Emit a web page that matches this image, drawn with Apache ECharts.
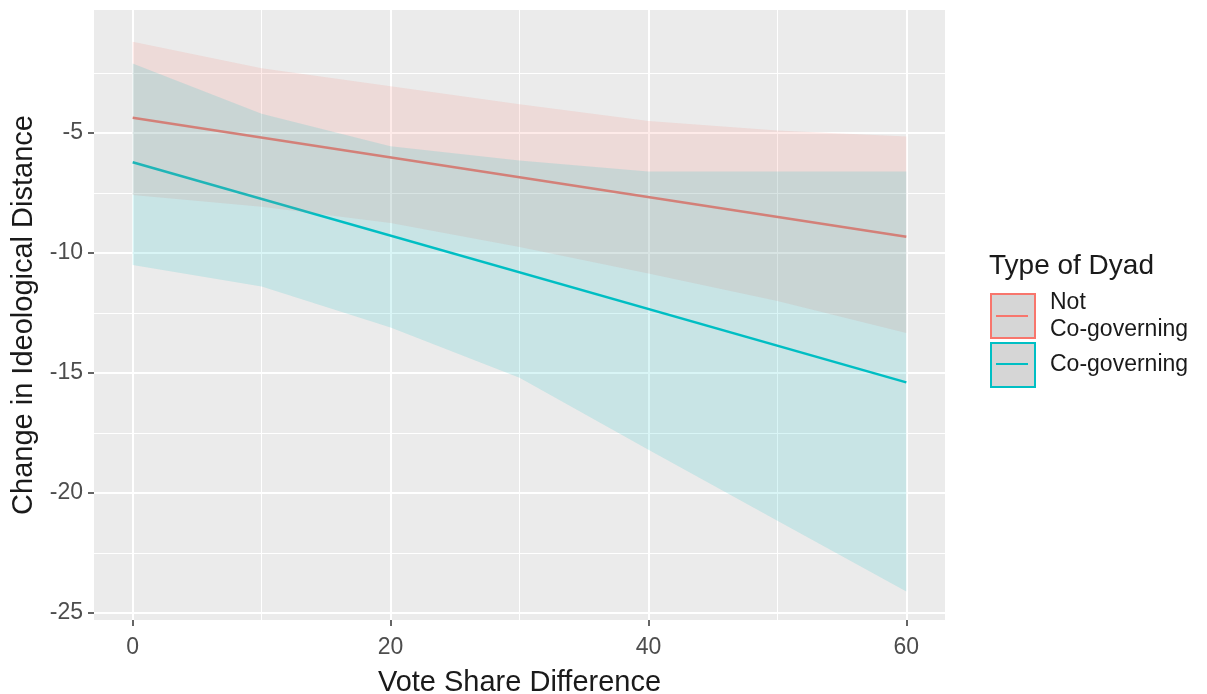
<!DOCTYPE html>
<html>
<head>
<meta charset="utf-8">
<script src="https://cdn.jsdelivr.net/npm/echarts@6/dist/echarts.min.js"></script>
<style>
  html, body { margin: 0; padding: 0; background: #fff; }
  #chart { width: 1207px; height: 694px; }
</style>
</head>
<body>
<div id="chart"></div>
<script>
// fitted lines (read at the ends of the range)
var lineX = [0, 60];
var notFit = [-4.36, -9.32];
var coFit = [-6.22, -15.39];

// confidence ribbons
var bandX = [0, 10, 20, 30, 40, 50, 60];
var notHigh = [-1.2, -2.3, -3.05, -3.8, -4.5, -4.9, -5.15];
var notLow = [-7.58, -8.07, -8.75, -9.75, -10.85, -12.0, -13.33];
var coHigh = [-2.1, -4.2, -5.55, -6.15, -6.6, -6.6, -6.6];
var coLow = [-10.5, -11.4, -13.1, -15.2, -18.2, -21.15, -24.1];

// axis ticks
var xTicks = [0, 20, 40, 60];
var xMinor = [10, 30, 50];
var yTicks = [-25, -20, -15, -10, -5];
var yMinor = [-22.5, -17.5, -12.5, -7.5, -2.5];

var PINK = '#F8766D';
var CYAN = '#00BFC4';
var NOT = 'Not Co-governing';
var CO = 'Co-governing';
var font = 'Liberation Sans, Arial, sans-serif';

var myChart = echarts.init(document.getElementById('chart'));

function band(low, high) {
  return function (params, api) {
    if (params.dataIndex !== 0) return null;
    var pts = [];
    for (var i = 0; i < bandX.length; i++) pts.push(api.coord([bandX[i], high[i]]));
    for (var j = bandX.length - 1; j >= 0; j--) pts.push(api.coord([bandX[j], low[j]]));
    return { type: 'polygon', shape: { points: pts }, style: { fill: api.visual('color'), opacity: 0.15 } };
  };
}

function pairs(xs, ys) {
  return xs.map(function (x, i) { return [x, ys[i]]; });
}

var xBase = { type: 'value', min: -3, max: 63, gridIndex: 0, position: 'bottom', axisLine: { show: false, onZero: false } };
var yBase = { type: 'value', min: -25.29, max: 0.125, gridIndex: 0, position: 'left', axisLine: { show: false, onZero: false } };

var option = {
  animation: false,
  backgroundColor: '#ffffff',
  title: [{
    text: 'Type of Dyad',
    left: 989, top: 252, padding: 0,
    textStyle: { fontFamily: font, fontSize: 28, fontWeight: 'normal', color: '#1a1a1a' }
  }],
  grid: {
    left: 94, top: 10, width: 851, height: 610,
    outerBoundsMode: 'none',
    show: true, backgroundColor: '#EBEBEB', borderWidth: 0
  },
  legend: [{
    orient: 'vertical', left: 990, top: 288, itemGap: -2, padding: 0,
    itemWidth: 44, itemHeight: 44, icon: 'rect',
    selectedMode: false,
    formatter: function (n) { return n === NOT ? 'Not\nCo-governing' : n; },
    textStyle: { fontFamily: font, fontSize: 23, color: '#1a1a1a', lineHeight: 27, padding: [2, 0, 0, 10] },
    data: [
      { name: NOT, itemStyle: { color: '#D6D6D6', borderColor: PINK, borderWidth: 2 } },
      { name: CO, itemStyle: { color: '#D6D6D6', borderColor: CYAN, borderWidth: 2 } }
    ]
  }, {
    orient: 'vertical', left: 990, top: 288, itemGap: -2, padding: 0,
    itemWidth: 44, itemHeight: 44,
    icon: 'path://M0,0L0,0M44,44L44,44M6,21L38,21L38,23L6,23Z',
    selectedMode: false,
    formatter: function (n) { return n === NOT ? 'Not\nCo-governing' : n; },
    textStyle: { fontFamily: font, fontSize: 23, color: 'rgba(0,0,0,0)', lineHeight: 27, padding: [2, 0, 0, 10] },
    data: [
      { name: NOT, itemStyle: { color: PINK, borderWidth: 0 } },
      { name: CO, itemStyle: { color: CYAN, borderWidth: 0 } }
    ]
  }],
  xAxis: [
    Object.assign({}, xBase, {
      name: 'Vote Share Difference',
      nameLocation: 'middle', nameGap: 48,
      nameTextStyle: { fontFamily: font, fontSize: 29, color: '#1a1a1a' },
      axisTick: { show: true, length: 6, customValues: xTicks, lineStyle: { color: '#333333', width: 1.5 } },
      axisLabel: { customValues: xTicks, margin: 16, fontFamily: font, fontSize: 23, color: '#4D4D4D' },
      splitLine: { show: true, lineStyle: { color: '#ffffff', width: 2 } }
    }),
    Object.assign({}, xBase, {
      axisTick: { show: false, customValues: xMinor },
      axisLabel: { show: false, customValues: xMinor },
      splitLine: { show: true, lineStyle: { color: '#ffffff', width: 1 } }
    })
  ],
  yAxis: [
    Object.assign({}, yBase, {
      name: 'Change in Ideological Distance',
      nameLocation: 'middle', nameGap: 54, nameRotate: 90,
      nameTextStyle: { fontFamily: font, fontSize: 29, color: '#1a1a1a' },
      axisTick: { show: true, length: 6, customValues: yTicks, lineStyle: { color: '#333333', width: 1.5 } },
      axisLabel: { customValues: yTicks, margin: 11, fontFamily: font, fontSize: 23, color: '#4D4D4D' },
      splitLine: { show: true, lineStyle: { color: '#ffffff', width: 2 } }
    }),
    Object.assign({}, yBase, {
      axisTick: { show: false, customValues: yMinor },
      axisLabel: { show: false, customValues: yMinor },
      splitLine: { show: true, lineStyle: { color: '#ffffff', width: 1 } }
    })
  ],
  series: [
    {
      name: NOT, type: 'line', z: 3, color: PINK,
      showSymbol: false, symbol: 'none',
      lineStyle: { color: PINK, width: 2.5 },
      data: pairs(lineX, notFit)
    },
    {
      name: CO, type: 'line', z: 3, color: CYAN,
      showSymbol: false, symbol: 'none',
      lineStyle: { color: CYAN, width: 2.5 },
      data: pairs(lineX, coFit)
    },
    {
      name: NOT, type: 'custom', z: 4, color: PINK,
      renderItem: band(notLow, notHigh),
      data: pairs(bandX, notHigh)
    },
    {
      name: CO, type: 'custom', z: 4, color: CYAN,
      renderItem: band(coLow, coHigh),
      data: pairs(bandX, coHigh)
    }
  ]
};

myChart.setOption(option);
</script>
</body>
</html>
